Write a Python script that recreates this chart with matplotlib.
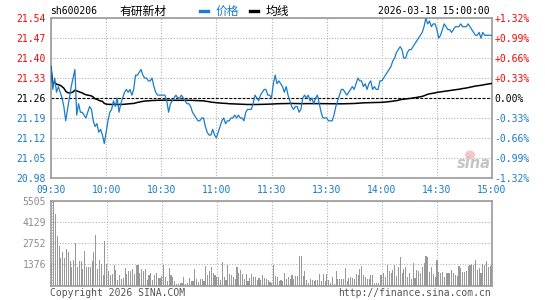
import numpy as np
import matplotlib
matplotlib.use("Agg")
import matplotlib.pyplot as plt
from matplotlib.lines import Line2D
from matplotlib.patches import Ellipse

# ---------------- data ----------------
symbol = "sh600206"
name = "有研新材"
timestamp = "2026-03-18 15:00:00"
prev_close = 21.26
pct_limit = 1.32

price = [
    21.37, 21.29, 21.33, 21.28, 21.30, 21.28, 21.26, 21.23, 21.18, 21.22,
    21.26, 21.30, 21.33, 21.36, 21.20, 21.24, 21.21, 21.21, 21.20, 21.19,
    21.21, 21.23, 21.22, 21.18, 21.16, 21.17, 21.14, 21.15, 21.13, 21.10,
    21.14, 21.18, 21.21, 21.22, 21.25, 21.23, 21.26, 21.21, 21.24, 21.26,
    21.28, 21.29, 21.28, 21.29, 21.27, 21.29, 21.34, 21.34, 21.35, 21.36,
    21.34, 21.33, 21.33, 21.32, 21.32, 21.33, 21.30, 21.28, 21.27, 21.27,
    21.27, 21.27, 21.27, 21.25, 21.21, 21.24, 21.25, 21.26, 21.27, 21.26,
    21.26, 21.27, 21.26, 21.25, 21.24, 21.24, 21.23, 21.21, 21.20, 21.19,
    21.18, 21.18, 21.19, 21.19, 21.16, 21.14, 21.13, 21.13, 21.15, 21.13,
    21.12, 21.14, 21.16, 21.18, 21.19, 21.17, 21.18, 21.18, 21.19, 21.19,
    21.20, 21.19, 21.20, 21.19, 21.19, 21.18, 21.21, 21.22, 21.22, 21.22,
    21.24, 21.27, 21.26, 21.25, 21.27, 21.28, 21.29, 21.29, 21.27, 21.27,
    21.26,
    21.31, 21.34, 21.31, 21.32, 21.31, 21.30, 21.28, 21.30, 21.27,
    21.25, 21.23, 21.22, 21.23, 21.23, 21.21, 21.22, 21.26, 21.27, 21.26,
    21.27, 21.25, 21.26, 21.24, 21.26, 21.27, 21.24, 21.21, 21.19, 21.19,
    21.19, 21.18, 21.18, 21.18, 21.20, 21.23, 21.25, 21.27, 21.29, 21.29,
    21.28, 21.27, 21.28, 21.29, 21.30, 21.29, 21.31, 21.33, 21.32, 21.32,
    21.30, 21.31, 21.29, 21.31, 21.32, 21.29, 21.30, 21.29, 21.29, 21.32,
    21.32, 21.33, 21.34, 21.35, 21.36, 21.37, 21.39, 21.40, 21.42, 21.43,
    21.44, 21.43, 21.40, 21.40, 21.42, 21.43, 21.43, 21.44, 21.45, 21.46,
    21.47, 21.48, 21.49, 21.51, 21.54, 21.52, 21.53, 21.51, 21.52, 21.52,
    21.50, 21.47, 21.48, 21.50, 21.52, 21.51, 21.50, 21.50, 21.49, 21.50,
    21.51, 21.51, 21.51, 21.52, 21.51, 21.51, 21.51, 21.52, 21.51, 21.50,
    21.49, 21.48, 21.48, 21.49, 21.47, 21.49, 21.48, 21.48, 21.48, 21.48, 21.48,
]

volume = [
    1431, 5505, 4690, 3237, 2598, 1762, 2158, 1806, 2378, 2158,
    1585, 1211, 1651, 2752, 1211, 1585, 1585, 1057, 2246, 1211,
    1211, 1211, 1585, 2202, 3303, 1057, 1651, 1387, 660, 2907,
    1431, 925, 660, 727, 1321, 991, 330, 660, 396, 484,
    1145, 771, 925, 925, 1057, 727, 1365, 1365, 837, 1057,
    925, 1057, 330, 705, 837, 330, 660, 837, 484, 484,
    595, 1365, 550, 264, 1145, 660, 550, 264, 110, 110,
    176, 176, 550, 110, 176, 484, 264, 264, 1057, 396,
    220, 396, 396, 264, 1255, 660, 925, 1211, 837, 705,
    550, 550, 330, 1541, 550, 330, 1365, 771, 660, 550,
    396, 1211, 837, 991, 771, 440, 771, 264, 484, 727,
    550, 550, 330, 484, 330, 705, 484, 396, 330, 220,
    176, 1365, 595, 550, 264, 330, 264, 837, 440, 550,
    440, 660, 440, 617, 595, 1916, 1916, 595, 925, 330,
    176, 396, 330, 264, 330, 330, 727, 264, 771, 264,
    727, 330, 176, 550, 110, 925, 440, 396, 396, 396,
    1167, 264, 484, 550, 484, 396, 771, 660, 1057, 1255,
    705, 550, 396, 396, 705, 660, 176, 176, 176, 660,
    660, 837, 550, 1321, 925, 837, 991, 1321, 595, 1211,
    1872, 815, 1101, 1211, 550, 815, 396, 1497, 484, 991,
    925, 837, 1211, 1497, 1916, 1850, 881, 1211, 771, 550,
    1651, 881, 815, 881, 550, 815, 815, 815, 991, 815,
    660, 595, 1277, 1145, 881, 881, 925, 1277, 1365, 1431,
    1321, 1651, 991, 1145, 837, 1431, 1365, 1585, 1211, 1255, 1365,
]

time_labels = ["09:30", "10:00", "10:30", "11:00", "11:30",
               "13:30", "14:00", "14:30", "15:00"]
vol_ticks = [1376, 2752, 4129, 5505]

# ---------------- styling ----------------
W, H = 545, 300
BLUE = "#1a7cc8"
RED = "#ff0000"
GRID = "#b4b4b4"
FRAME = "#9a9a9a"
MONO = "DejaVu Sans Mono"
FS = 7

plt.rcParams["font.family"] = [MONO, "Noto Sans CJK SC"]

fig = plt.figure(figsize=(W / 100, H / 100), dpi=100)
fig.patch.set_facecolor("white")


def fx(x):
    return x / W


def fy(y):
    return 1 - y / H


def box(l, t, r, b):
    return [fx(l), fy(b), fx(r) - fx(l), fy(t) - fy(b)]


minutes = np.arange(len(price))
price_arr = np.array(price)
vol_arr = np.array(volume, dtype=float)
avg_line = np.cumsum(price_arr * vol_arr) / np.cumsum(vol_arr)

# ---------------- main price axes ----------------
ax = fig.add_axes(box(51, 18, 492, 178))
lo = prev_close * (1 - pct_limit / 100)
hi = prev_close * (1 + pct_limit / 100)
ax.set_xlim(0, len(price) - 1)
ax.set_ylim(lo, hi)

steps = np.arange(-4, 5)
yt = prev_close * (1 + steps * pct_limit / 400)
ax.set_yticks(yt)
ax.set_yticklabels([f"{v:.2f}" for v in yt])
xt = np.arange(0, len(price), 30)
ax.set_xticks(xt)
ax.set_xticklabels(time_labels)

for lbl, k in zip(ax.get_yticklabels(), steps):
    lbl.set_color(RED if k > 0 else ("black" if k == 0 else BLUE))
    lbl.set_fontsize(FS)
    lbl.set_fontfamily(MONO)
for lbl in ax.get_xticklabels():
    lbl.set_color(BLUE)
    lbl.set_fontsize(FS)
    lbl.set_fontfamily(MONO)
ax.tick_params(axis="both", length=0)
ax.tick_params(axis="y", pad=3.5)
ax.tick_params(axis="x", pad=5)

ax.grid(True, color=GRID, linestyle=(0, (1, 1.5)), linewidth=0.8)
ax.axhline(prev_close, color="black", linestyle=(0, (2.5, 1.5)), linewidth=0.8, zorder=2)
for s in ax.spines.values():
    s.set_color(FRAME)
    s.set_linewidth(1.2)

ax.plot(minutes, avg_line, color="black", linewidth=1.1, zorder=3)
ax.plot(minutes, price_arr, color=BLUE, linewidth=0.9, zorder=4)

ax2 = ax.twinx()
ax2.set_ylim(-pct_limit, pct_limit)
pt = steps * pct_limit / 4
ax2.set_yticks(pt)
ax2.set_yticklabels([("0.00%" if k == 0 else f"{v:+.2f}%") for v, k in zip(pt, steps)])
for lbl, k in zip(ax2.get_yticklabels(), steps):
    lbl.set_color(RED if k > 0 else ("black" if k == 0 else BLUE))
    lbl.set_fontsize(FS)
    lbl.set_fontfamily(MONO)
ax2.tick_params(axis="y", length=0, pad=2)
for s in ax2.spines.values():
    s.set_visible(False)

# watermark
fig.text(fx(474), fy(164), "sina", fontsize=10.5, fontstyle="italic",
         fontweight="bold", color="#c4c4c4", ha="center", va="center",
         family="DejaVu Sans", zorder=1)
fig.add_artist(Ellipse((fx(470), fy(155)), width=fx(10), height=(9 / H),
                       facecolor="#f4b8b8", edgecolor="none", alpha=0.8))

# ---------------- volume axes ----------------
vax = fig.add_axes(box(51, 201, 492, 285.5))
vax.set_xlim(-0.4, len(price) - 1)
vax.set_ylim(0, max(vol_ticks))
vax.bar(minutes, vol_arr, width=0.6, color="#999999", linewidth=0)
vax.set_xticks(xt)
vax.set_xticklabels([])
vax.set_yticks(vol_ticks)
vax.set_yticklabels([str(v) for v in vol_ticks])
for lbl in vax.get_yticklabels():
    lbl.set_color("#8c8c8c")
    lbl.set_fontsize(FS)
    lbl.set_fontfamily(MONO)
vax.tick_params(axis="both", length=0)
vax.tick_params(axis="y", pad=3.5)
vax.grid(True, color=GRID, linestyle=(0, (1, 1.5)), linewidth=0.8)
vax.set_axisbelow(True)
for s in vax.spines.values():
    s.set_color(FRAME)
    s.set_linewidth(1.2)

# ---------------- header ----------------
fig.text(fx(50), fy(11), symbol, fontsize=FS, family=MONO, color="black",
         ha="left", va="center")
fig.text(fx(120), fy(11), name, fontsize=8.5, family=["Noto Sans CJK SC", "DejaVu Sans"],
         color="black", ha="left", va="center")
fig.add_artist(Line2D([fx(200), fx(208)], [fy(11), fy(11)], color=BLUE, linewidth=2.4))
fig.text(fx(216), fy(11), "价格", fontsize=8.5, family=["Noto Sans CJK SC", "DejaVu Sans"],
         color=BLUE, ha="left", va="center")
fig.add_artist(Line2D([fx(250), fx(258)], [fy(11), fy(11)], color="black", linewidth=2.4))
fig.text(fx(266), fy(11), "均线", fontsize=8.5, family=["Noto Sans CJK SC", "DejaVu Sans"],
         color="black", ha="left", va="center")
fig.text(fx(490), fy(11), timestamp, fontsize=FS, family=MONO, color="black",
         ha="right", va="center")

# ---------------- footer ----------------
fig.text(fx(50), fy(293), "Copyright 2026 SINA.COM", fontsize=FS, family=MONO,
         color="#555555", ha="left", va="center")
fig.text(fx(491), fy(293), "http://finance.sina.com.cn", fontsize=FS, family=MONO,
         color="#555555", ha="right", va="center")

fig.savefig("out.png", dpi=100)
